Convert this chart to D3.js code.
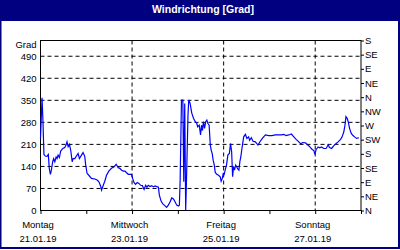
<!DOCTYPE html>
<html>
<head>
<meta charset="utf-8">
<script src="https://cdnjs.cloudflare.com/ajax/libs/d3/7.8.5/d3.min.js"></script>
<style>
   body { margin: 0; background: #fff; }
   svg text { font-family: "Liberation Sans", Arial, sans-serif; font-size: 9.5px; fill: #000; }
</style>
</head>
<body>
<div id="chart"></div>
<script>
// Windrichtung, Stunden seit Montag 21.01.19 00:00
let hours = [0, 0.8, 1.3, 1.8, 2.5, 3.4, 4.1, 4.6, 5.2, 5.7, 6.4, 6.9, 7.5, 8.2, 8.7, 9.2, 9.9, 10.6, 11.7, 12.7,
   13.4, 13.9, 14.5, 15.2, 15.9, 16.6, 17.1, 18.0, 18.8, 19.7, 20.4, 21.5, 22.3, 23.2, 23.7, 24.4, 25.3, 26.7, 28.5, 29.9,
   30.8, 31.5, 32.0, 32.9, 33.7, 34.6, 35.8, 37.2, 38.6, 39.7, 40.7, 41.6, 42.5, 43.5, 44.3, 45.1, 46.0, 46.9, 47.7, 48.3,
   49.0, 49.8, 50.7, 51.6, 52.5, 53.4, 54.3, 55.1, 55.8, 56.5, 57.4, 58.3, 59.2, 60.0, 60.9, 61.8, 62.3, 63.2, 64.0, 64.9,
   66.1, 67.0, 67.9, 68.8, 69.7, 70.6, 71.4, 72.3, 72.8, 73.2, 73.9, 74.6, 75.1, 75.6, 76.1, 76.5, 77.3, 77.7, 78.4, 79.3,
   80.2, 81.1, 81.9, 82.4, 83.2, 83.9, 84.4, 84.9, 85.4, 86.0, 86.6, 87.2, 87.7, 88.4, 89.0, 89.5, 90.0, 90.5, 91.1, 91.6,
   92.4, 93.3, 94.2, 94.7, 95.3, 95.8, 96.3, 96.8, 97.5, 98.2, 99.0, 99.6, 100.2, 100.7, 101.2, 101.7, 102.3, 102.8, 103.5, 104.0,
   104.5, 105.0, 105.6, 106.5, 107.4, 108.2, 109.1, 109.6, 110.5, 111.4, 112.6, 114.0, 115.2, 116.5, 117.9, 119.6, 121.3, 123.1, 124.9, 126.3,
   127.5, 128.7, 130.1, 131.5, 132.8, 134.0, 135.4, 136.4, 137.5, 138.9, 140.1, 141.2, 142.4, 143.3, 143.8, 144.5, 145.5, 146.4, 147.3, 148.5,
   149.7, 150.8, 151.5, 152.6, 153.8, 155.0, 156.0, 157.3, 158.1, 159.0, 159.6, 160.1, 160.8, 161.3, 162.0, 162.9, 163.8, 164.8, 165.7, 166.9]

let degrees = [229, 358, 282, 178, 173, 172, 178, 134, 115, 128, 155, 165, 155, 170, 165, 176, 168, 189, 197, 200,
   208, 218, 203, 210, 189, 155, 165, 165, 173, 181, 165, 176, 184, 172, 144, 118, 112, 102, 100, 96,
   89, 78, 65, 80, 93, 112, 125, 134, 139, 147, 136, 134, 128, 125, 125, 120, 115, 115, 115, 102,
   89, 83, 89, 86, 80, 79, 67, 80, 74, 80, 76, 79, 75, 78, 76, 74, 49, 30, 22, 17,
   10, 17, 27, 40, 37, 27, 17, 14, 17, 96, 351, 351, 91, 340, 0, 90, 300, 351, 341, 309,
   293, 282, 277, 266, 271, 240, 271, 254, 282, 261, 282, 287, 277, 271, 208, 191, 181, 160, 144, 121,
   115, 112, 107, 93, 102, 118, 115, 128, 144, 176, 181, 213, 186, 107, 139, 128, 144, 139, 131, 128,
   155, 170, 197, 234, 242, 229, 234, 223, 231, 220, 218, 208, 220, 231, 240, 238, 238, 240, 240, 240,
   242, 238, 240, 243, 234, 226, 218, 212, 216, 215, 208, 202, 194, 191, 178, 194, 202, 199, 202, 197,
   197, 208, 200, 197, 206, 213, 218, 226, 234, 250, 271, 298, 292, 282, 261, 245, 238, 233, 229, 231]

let yTicks = [0, 70, 140, 210, 280, 350, 420, 490]
let compassTicks = [0, 45, 90, 135, 180, 225, 270, 315, 360, 405, 450, 495, 540]
let compassLabels = ["N", "NE", "E", "SE", "S", "SW", "W", "NW", "N", "NE", "E", "SE", "S"]
let labelDays = [0, 2, 4, 6]
let dayNames = ["Montag", "Mittwoch", "Freitag", "Sonntag"]
let dayDates = ["21.01.19", "23.01.19", "25.01.19", "27.01.19"]

let title = "Windrichtung [Grad]"
let unit = "Grad"

let totalW = 400, totalH = 250
let margin = { top: 40.5, right: 39, bottom: 39.5, left: 40.5 }
let width = totalW - margin.left - margin.right
let height = totalH - margin.top - margin.bottom
let navy = "#000080"

let start = new Date(2019, 0, 21)
function atHour(h) { return new Date(start.getTime() + h * 3600 * 1000) }

let data = hours.map(function (h, i) { return { date: atHour(h), value: degrees[i] } })

let x = d3.scaleTime()
   .domain([start, atHour(7 * 24)])
   .range([0, width])

let y = d3.scaleLinear()
   .domain([0, 540])
   .range([height, 0])

let svg = d3.select("#chart").append("svg")
   .attr("width", totalW)
   .attr("height", totalH)

// frame and title bar
svg.append("rect").attr("x", 0).attr("y", 0).attr("width", totalW).attr("height", 21).attr("fill", navy)
svg.append("rect").attr("x", 0).attr("y", 0).attr("width", 1.5).attr("height", 249).attr("fill", navy)
svg.append("rect").attr("x", 398).attr("y", 0).attr("width", 2).attr("height", 249).attr("fill", navy)
svg.append("rect").attr("x", 0).attr("y", 247).attr("width", 400).attr("height", 2).attr("fill", navy)

svg.append("text")
   .attr("x", 203)
   .attr("y", 12.5)
   .attr("text-anchor", "middle")
   .style("font-weight", "bold")
   .style("font-size", "10.5px")
   .style("fill", "#fff")
   .text(title)

let g = svg.append("g")
   .attr("transform", "translate(" + margin.left + "," + margin.top + ")")

// dashed grid
g.selectAll("line.hgrid").data(yTicks.filter(function (d) { return d > 0 }))
   .join("line")
   .attr("class", "hgrid")
   .attr("x1", 0).attr("x2", width)
   .attr("y1", function (d) { return y(d) }).attr("y2", function (d) { return y(d) })
   .attr("stroke", "#000").attr("stroke-dasharray", "4,3")

g.selectAll("line.vgrid").data(labelDays.filter(function (d) { return d > 0 }))
   .join("line")
   .attr("class", "vgrid")
   .attr("x1", function (d) { return x(atHour(d * 24)) }).attr("x2", function (d) { return x(atHour(d * 24)) })
   .attr("y1", 0).attr("y2", height)
   .attr("stroke", "#000").attr("stroke-dasharray", "4,3")

// left axis
let leftAxis = g.append("g")
   .call(d3.axisLeft(y).tickValues(yTicks).tickSize(0).tickPadding(4))
leftAxis.select(".domain").remove()

g.append("text")
   .attr("x", -4)
   .attr("y", 7.8)
   .attr("text-anchor", "end")
   .text(unit)

// right axis with compass labels
let rightAxis = g.append("g")
   .attr("transform", "translate(" + width + ",0)")
   .call(d3.axisRight(y).tickValues(compassTicks).tickSize(3).tickPadding(1)
      .tickFormat(function (d, i) { return compassLabels[i] }))
rightAxis.select(".domain").remove()
rightAxis.selectAll("line").attr("stroke", "#000")

// bottom axis ticks (one per day)
let bottomAxis = g.append("g")
   .attr("transform", "translate(0," + height + ")")
   .call(d3.axisBottom(x).ticks(d3.timeDay.every(1)).tickSize(3.5).tickFormat(""))
bottomAxis.select(".domain").remove()
bottomAxis.selectAll("line").attr("stroke", "#000")

let dayLabel = g.selectAll("g.daylabel").data(labelDays)
   .join("g")
   .attr("class", "daylabel")
   .attr("transform", function (d) { return "translate(" + (x(atHour(d * 24)) - 2.5) + "," + height + ")" })

dayLabel.append("text")
   .attr("y", 17)
   .attr("text-anchor", "middle")
   .text(function (d, i) { return dayNames[i] })

dayLabel.append("text")
   .attr("y", 31.2)
   .attr("text-anchor", "middle")
   .text(function (d, i) { return dayDates[i] })

// plot frame
g.append("rect")
   .attr("width", width)
   .attr("height", height)
   .attr("fill", "none")
   .attr("stroke", "#000")

// line
let line = d3.line()
   .x(function (d) { return x(d.date) })
   .y(function (d) { return y(d.value) })

g.append("path")
   .datum(data)
   .attr("fill", "none")
   .attr("stroke", "#0000ff")
   .attr("stroke-width", 1.2)
   .attr("d", line)
</script>
</body>
</html>
